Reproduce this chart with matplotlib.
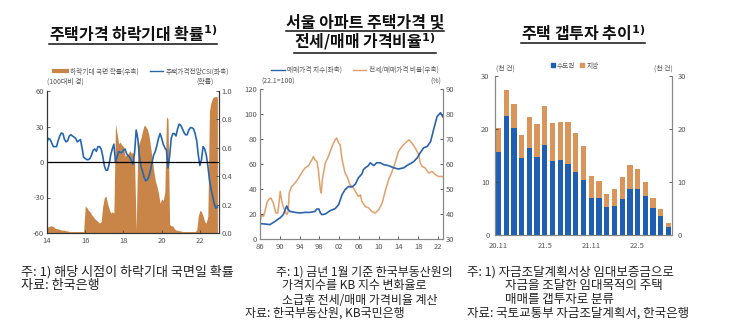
import numpy as np
import matplotlib
matplotlib.use("Agg")
import matplotlib.pyplot as plt
from matplotlib.lines import Line2D
from matplotlib.patches import Patch

plt.rcParams['font.family'] = ['Noto Sans CJK KR', 'DejaVu Sans']
plt.rcParams['axes.unicode_minus'] = False

# ---------------- data ----------------
# Panel 1: monthly, 2014.01 ~ 2022.12
csi_start = 2014
csi = [17, 20, 19, 16, 13, 13, 13, 18, 22, 24.5, 24, 19,
       17, 18, 22, 23, 22, 21, 20, 17, 18, 19, 12, 4,
       3, 2, 2, 3, 6, 10, 11, 9, 13, 13, 11, 5,
       -3, -7, -7, -2, 6, 11, 15, 0, 4, 9, 8, 8,
       10, 11, 7, 5, 4, 1, -2, 8, 27, 20, 5, -4,
       -8, -13, -16, -15, -12, -7, 0, 6, 9, 14, 20, 24,
       20, 15, 12, 10, -5, 5, 20, 24, 24, 22, 28, 32,
       31, 28, 25, 23, 23, 27, 29, 29, 28, 24, 18, 6,
       -3, 2, 13, 11, 6, -3, -15, -23, -29, -35, -39, -38]
prob = [0.04, 0.045, 0.05, 0.05,
        0.045, 0.035, 0.03, 0.03, 0.025, 0.02, 0.02, 0.02, 0.015, 0.015,
        0.01, 0.01, 0.01, 0.01, 0.01, 0.01, 0.01, 0.01, 0.01, 0.01,
        0.19, 0.18, 0.16, 0.15, 0.13, 0.115, 0.10, 0.09, 0.08, 0.07, 0.08,
        0.19, 0.25, 0.26, 0.21, 0.17, 0.14, 0.15, 0.14,
        0.77, 0.70, 0.63, 0.64, 0.62, 0.61, 0.54, 0.55, 0.56, 0.58, 0.56, 0.57, 0.50,
        0.02,
        0.60, 0.64, 0.67, 0.72, 0.76, 0.75, 0.73, 0.69, 0.61, 0.53,
        0.44, 0.37, 0.33, 0.28, 0.21, 0.24, 0.23, 0.29, 0.82, 0.80,
        0.06, 0.05, 0.05, 0.03,
        0.02, 0.02, 0.015, 0.015, 0.01, 0.01, 0.01, 0.01, 0.01, 0.01, 0.01, 0.01, 0.01, 0.02,
        0.12, 0.16, 0.15, 0.12, 0.08, 0.07, 0.12,
        0.86, 0.92, 0.95, 0.96, 0.96, 0.96]

# Panel 2: Seoul apartment sales price index (22.1=100) and jeonse/sales ratio (%)
idx_year = [1986.0, 1987.0, 1988.0, 1989.0, 1989.7, 1990.1, 1990.7, 1991.4, 1991.7,
            1992.1, 1993.1, 1994.1, 1995.1, 1996.1, 1997.1, 1997.5, 1997.9, 1998.2,
            1998.5, 1999.2, 2000.2, 2001.2, 2001.9, 2002.6, 2003.2, 2003.9, 2004.6,
            2005.3, 2005.9, 2006.6, 2006.9, 2007.3, 2007.9, 2008.3, 2009.0, 2009.6,
            2010.3, 2011.0, 2012.0, 2013.0, 2014.0, 2015.1, 2015.7, 2016.4, 2017.1,
            2017.8, 2018.4, 2019.1, 2019.8, 2020.5, 2021.1, 2021.8, 2022.5, 2023.0]
idx_val = [12.3, 12, 11.5, 14, 16, 17, 19.5, 26.5, 23.5,
           22, 21.3, 20.8, 21.3, 21.3, 22, 24, 24, 21,
           19.5, 20, 22.7, 24.3, 27.5, 35.5, 39.5, 42, 41.6,
           44, 49, 52, 55.5, 57, 58.7, 61, 58.7, 61,
           61, 59.5, 58.7, 57, 56, 57, 58.7, 60.3, 62,
           65, 69, 73, 74, 78, 87.5, 98, 101, 97.6]
ratio_year = [1986.0, 1986.3, 1986.7, 1987.0, 1987.4, 1987.7, 1988.2, 1988.7, 1989.2,
              1989.6, 1989.9, 1990.1, 1990.4, 1990.7, 1991.1, 1991.4, 1991.7, 1991.9,
              1992.4, 1993.1, 1993.8, 1994.4, 1995.1, 1995.8, 1996.5, 1996.8, 1997.1,
              1997.5, 1997.8, 1998.2, 1998.4, 1998.6, 1999.2, 1999.7, 2000.2, 2000.7,
              2001.2, 2001.5, 2001.9, 2002.2, 2002.6, 2002.9, 2003.2, 2003.6, 2004.2,
              2004.9, 2005.3, 2005.9, 2006.3, 2006.6, 2007.3, 2008.0, 2008.6, 2009.3,
              2010.0, 2010.7, 2011.3, 2012.0, 2012.7, 2013.4, 2014.0, 2014.7, 2015.4,
              2016.1, 2016.7, 2017.4, 2018.1, 2018.4, 2018.8, 2019.4, 2020.1, 2020.8,
              2021.5, 2022.1, 2023.0]
ratio_val = [36.4, 39.7, 39, 41, 44.4, 45.7, 46.4, 44.4, 40.4,
             40.4, 45.7, 49, 45, 43, 41, 39.7, 41, 48.4,
             51, 52.4, 54.4, 56.4, 58.4, 59.3, 61.7, 63, 61.7,
             61, 57.7, 49.7, 48.4, 53.7, 60.4, 62.4, 65, 67.7,
             69.7, 70.4, 68.4, 67.7, 61.7, 59, 56.4, 55, 51.7,
             50.4, 49, 47, 47.7, 45, 43, 42.4, 41, 40.4,
             41.7, 44.4, 49, 53.7, 57, 61, 65, 67, 68.4,
             69.7, 68.4, 66.4, 63.7, 60.4, 59, 58.4, 56.4, 57,
             55.7, 55, 55]

# Panel 3: gap investment counts (thousand), 2020.11 ~ 2022.9
gap_months = ['20.11', '20.12', '21.1', '21.2', '21.3', '21.4', '21.5', '21.6', '21.7',
              '21.8', '21.9', '21.10', '21.11', '21.12', '22.1', '22.2', '22.3', '22.4',
              '22.5', '22.6', '22.7', '22.8', '22.9']
capital = [15.7, 22.4, 20.1, 14.5, 16.5, 14.8, 16.9, 14.0, 14.1, 13.4, 11.9, 10.4,
           6.9, 6.9, 5.3, 5.5, 6.8, 8.6, 8.6, 7.4, 5.1, 3.6, 1.6]
total = [20.2, 27.4, 24.7, 18.9, 22.2, 20.9, 24.3, 21.2, 21.4, 21.3, 19.3, 16.8,
         11.2, 10.1, 7.8, 8.7, 11.0, 13.3, 12.4, 10.0, 7.0, 4.9, 2.3]
gap_ticks = ['20.11', '21.5', '21.11', '22.5']

# ---------------- style ----------------
BLUE = '#2566b0'
ORANGE_AREA = '#c98548'
BLUE2 = '#2b62ad'
ORANGE2 = '#e2a06c'
BAR_BLUE = '#1f5fb3'
BAR_ORANGE = '#d9955a'
TICK_C = '#555555'
TS = 5.5

W, H = 730, 335
fig = plt.figure(figsize=(W / 100, H / 100), dpi=100)


def box(l, t, r, b):
    return [l / W, 1 - b / H, (r - l) / W, (b - t) / H]


def style_ticks(ax):
    ax.tick_params(axis='both', labelsize=TS, labelcolor=TICK_C, length=2,
                   width=0.6, direction='in', pad=2, color='#444444')


# ---------------- panel 1 ----------------
ax1 = fig.add_axes(box(47, 91, 219, 233))
ax1r = ax1.twinx()
t1 = csi_start + np.arange(len(csi)) / 12
ax1r.fill_between(t1, 0, prob, color=ORANGE_AREA, lw=0)
ax1r.set_ylim(0, 1.0)
ax1r.set_yticks(np.arange(0, 1.01, 0.2))
ax1r.set_yticklabels([f'{v:.1f}' for v in np.arange(0, 1.01, 0.2)])
ax1.set_zorder(ax1r.get_zorder() + 1)
ax1.patch.set_visible(False)
ax1.plot(t1, csi, color=BLUE, lw=1.2)
ax1.axhline(0, color='black', lw=0.9)
ax1.set_ylim(-60, 60)
ax1.set_yticks([-60, -30, 0, 30, 60])
ax1.set_xlim(2014, 2023)
ax1.set_xticks([2014, 2016, 2018, 2020, 2022])
ax1.set_xticklabels(['14', '16', '18', '20', '22'])
for a in (ax1, ax1r):
    style_ticks(a)
    a.spines['top'].set_visible(False)
    for s in ('left', 'right', 'bottom'):
        a.spines[s].set_color('#333333')
        a.spines[s].set_linewidth(0.8)
ax1.tick_params(axis='x', pad=3)
ax1.text(0.0, 1.035, '(100대비 경)', transform=ax1.transAxes, fontsize=5,
         color=TICK_C, ha='left', va='bottom')
ax1.text(0.97, 1.035, '(확률)', transform=ax1.transAxes, fontsize=5,
         color=TICK_C, ha='right', va='bottom')
h1 = [Line2D([0], [0], color=ORANGE_AREA, lw=3), Line2D([0], [0], color=BLUE, lw=1)]
ax1.legend(h1, ['하락기대 국면 확률(우축)', '주택가격전망CSI(좌축)'], ncol=2,
           loc='center', bbox_to_anchor=(0.55, 1.14), frameon=False, fontsize=4.8,
           labelcolor=TICK_C, handlelength=2.0, columnspacing=1.6, handletextpad=0.4)

# ---------------- panel 2 ----------------
ax2 = fig.add_axes(box(260, 89, 443, 239))
ax2r = ax2.twinx()
ax2r.plot(ratio_year, ratio_val, color=ORANGE2, lw=1.1)
ax2.plot(idx_year, idx_val, color=BLUE2, lw=1.2)
ax2.set_zorder(ax2r.get_zorder() + 1)
ax2.patch.set_visible(False)
ax2.set_ylim(0, 120)
ax2.set_yticks(range(0, 121, 20))
ax2r.set_ylim(30, 90)
ax2r.set_yticks(range(30, 91, 10))
ax2.set_xlim(1986, 2023)
ax2.set_xticks(range(1986, 2023, 4))
ax2.set_xticklabels([f'{y % 100:02d}' for y in range(1986, 2023, 4)])
for a in (ax2, ax2r):
    style_ticks(a)
    a.spines['top'].set_visible(False)
    for s in ('left', 'right', 'bottom'):
        a.spines[s].set_color('#888888')
        a.spines[s].set_linewidth(0.8)
ax2.tick_params(axis='x', pad=3)
ax2.text(0.01, 1.02, '(22.1=100)', transform=ax2.transAxes, fontsize=5,
         color=TICK_C, ha='left', va='bottom')
ax2.text(0.99, 1.02, '(%)', transform=ax2.transAxes, fontsize=5,
         color=TICK_C, ha='right', va='bottom')
h2 = [Line2D([0], [0], color=BLUE2, lw=1), Line2D([0], [0], color=ORANGE2, lw=1)]
ax2.legend(h2, ['매매가격 지수(좌축)', '전세/매매가격 비율(우축)'], ncol=2,
           loc='center', bbox_to_anchor=(0.52, 1.127), frameon=False, fontsize=4.8,
           labelcolor=TICK_C, handlelength=2.0, columnspacing=1.6, handletextpad=0.4)

# ---------------- panel 3 ----------------
ax3 = fig.add_axes(box(495, 76, 672, 235))
ax3r = ax3.twinx()
xb = np.arange(len(gap_months))
local = np.array(total) - np.array(capital)
ax3.bar(xb, capital, width=0.68, color=BAR_BLUE, label='수도권')
ax3.bar(xb, local, width=0.68, bottom=capital, color=BAR_ORANGE, label='지방')
ax3.set_xlim(-0.45, len(gap_months) - 0.55)
ax3.set_ylim(0, 30)
ax3r.set_ylim(0, 30)
for a in (ax3, ax3r):
    a.set_yticks([0, 10, 20, 30])
    style_ticks(a)
    a.spines['top'].set_visible(False)
    for s in ('left', 'right', 'bottom'):
        a.spines[s].set_color('#888888')
        a.spines[s].set_linewidth(0.8)
ax3.set_xticks([gap_months.index(m) for m in gap_ticks])
ax3.set_xticklabels(gap_ticks)
ax3.tick_params(axis='x', length=0, pad=5)
ax3.tick_params(axis='y', pad=4)
ax3r.tick_params(axis='y', pad=4)
ax3.text(0.06, 1.02, '(천 건)', transform=ax3.transAxes, fontsize=5,
         color=TICK_C, ha='center', va='bottom')
ax3.text(0.95, 1.02, '(천 건)', transform=ax3.transAxes, fontsize=5,
         color=TICK_C, ha='center', va='bottom')
h3 = [Patch(color=BAR_BLUE), Patch(color=BAR_ORANGE)]
ax3.legend(h3, ['수도권', '지방'], ncol=2, loc='center', bbox_to_anchor=(0.45, 1.065),
           frameon=False, fontsize=4.8, labelcolor=TICK_C, handlelength=0.6,
           handleheight=0.6, columnspacing=0.8, handletextpad=0.3)

# ---------------- titles (bold, underlined) ----------------
titles = [
    (133, 33, r'주택가격 하락기대 확률$^{\mathbf{1)}}$'),
    (365, 22, '서울 아파트 주택가격 및'),
    (365, 42, r'전세/매매 가격비율$^{\mathbf{1)}}$'),
    (583, 33, r'주택 갭투자 추이$^{\mathbf{1)}}$'),
]
title_objs = []
for x, y, s in titles:
    t = fig.text(x / W, 1 - y / H, s, fontsize=11.5, fontweight='bold',
                 ha='center', va='center', color='#111111')
    title_objs.append(t)

fig.canvas.draw()
renderer = fig.canvas.get_renderer()
for t in title_objs:
    bb = t.get_window_extent(renderer)
    yl = bb.y0 - 0.5
    fig.add_artist(Line2D([bb.x0 / W, bb.x1 / W], [yl / H, yl / H],
                          transform=fig.transFigure, color='#111111', lw=1.1))

# ---------------- footnotes ----------------
notes = [
    (21, 272, '주: 1) 해당 시점이 하락기대 국면일 확률', 9.4),
    (21, 286, '자료: 한국은행', 9.4),
    (276, 272, '주: 1) 금년 1월 기준 한국부동산원의', 8.6),
    (282, 286, '가격지수를 KB 지수 변화율로', 8.6),
    (282, 300, '소급후 전세/매매 가격비율 계산', 8.6),
    (245, 313, '자료: 한국부동산원, KB국민은행', 8.6),
    (467, 272, '주: 1) 자금조달계획서상 임대보증금으로', 9.0),
    (505, 286, '자금을 조달한 임대목적의 주택', 9.0),
    (505, 300, '매매를 갭투자로 분류', 9.0),
    (467, 313, '자료: 국토교통부 자금조달계획서, 한국은행', 9.0),
]
for x, y, s, size in notes:
    fig.text(x / W, 1 - y / H, s, fontsize=size, ha='left', va='center',
             color='#222222')

fig.savefig('out.png', dpi=100)
